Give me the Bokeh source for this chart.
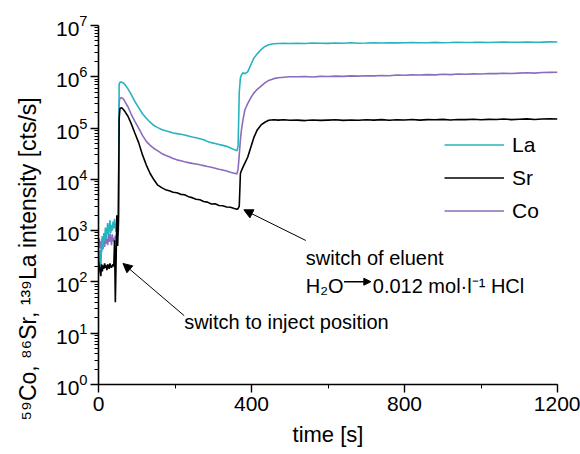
from bokeh.plotting import figure
from bokeh.models import (Range1d, SingleIntervalTicker, FixedTicker, Legend, LegendItem,
                          Label, Arrow, NormalHead, Title)
from bokeh.embed import file_html
from bokeh.resources import INLINE

# ---------------- data ----------------
time_s = [0, 2, 4, 6, 8, 10, 12, 14, 16, 18, 20, 22, 24, 26, 28, 30, 32, 34, 36, 38, 40, 42, 44, 46, 48, 50, 52,
          54, 56, 60, 65, 70, 77, 85, 95,
          105, 115, 125, 135, 145, 155, 165, 175, 185, 195, 205, 215, 225, 235, 245, 255, 265, 275, 285, 295,
          305, 315, 325, 335, 345, 355, 362,
          365, 368, 371, 374, 378, 383, 390, 398, 406, 415, 425, 435, 445, 458, 470, 485, 500,
          520, 540, 560, 580, 600, 620, 640, 660, 680, 700, 720, 740, 760, 780, 800, 820, 840, 860, 880, 900,
          920, 940, 960, 980, 1000, 1020, 1040, 1060, 1080, 1100, 1120, 1140, 1160, 1180, 1200]

la_cps = [300, 180, 420, 160, 520, 780, 430, 900, 620, 1150, 700, 980, 1400, 820, 1100, 1600, 900, 1300, 1000,
          1500, 1100, 1700, 1200, 950, 1500, 1050, 1800,
          7.2e5, 7.8e5, 7.9e5, 7.6e5, 6.9e5, 5.8e5, 4.6e5, 3.3e5,
          2.5e5, 1.9e5, 1.55e5, 1.3e5, 1.12e5, 1.02e5, 9.4e4, 8.9e4, 8.5e4, 8.0e4, 7.8e4, 7.6e4, 7.3e4, 7.0e4,
          6.7e4, 6.5e4, 6.2e4, 5.9e4, 5.5e4, 5.2e4, 5.0e4, 4.8e4, 4.6e4, 4.4e4, 4.1e4, 3.8e4, 3.6e4,
          4.5e4, 5.0e5, 9.5e5, 1.1e6, 1.2e6, 1.15e6, 1.25e6, 1.7e6, 2.3e6, 2.8e6, 3.4e6, 3.9e6, 4.2e6, 4.4e6,
          4.45e6, 4.5e6, 4.45e6,
          4.5e6, 4.45e6, 4.55e6, 4.5e6, 4.48e6, 4.55e6, 4.5e6, 4.6e6, 4.52e6, 4.55e6, 4.6e6, 4.55e6, 4.62e6,
          4.58e6, 4.6e6, 4.65e6, 4.6e6, 4.62e6, 4.68e6, 4.62e6, 4.65e6, 4.7e6, 4.65e6, 4.68e6, 4.72e6, 4.66e6,
          4.7e6, 4.74e6, 4.7e6, 4.72e6, 4.78e6, 4.72e6, 4.75e6, 4.8e6, 4.78e6]

sr_cps = [250, 200, 160, 130, 220, 160, 210, 180, 230, 190, 210, 170, 220, 200, 180, 230, 200, 190, 210, 220,
          200, 650, 40, 250, 2000, 500, 1500,
          1.5e5, 2.4e5, 2.5e5, 2.3e5, 2.05e5, 1.7e5, 1.25e5, 8.0e4,
          5.2e4, 3.0e4, 1.9e4, 1.3e4, 9.8e3, 7.7e3, 6.9e3, 6.3e3, 6.0e3, 5.6e3, 5.5e3, 5.1e3, 5.0e3, 4.6e3,
          4.4e3, 4.1e3, 4.0e3, 3.7e3, 3.6e3, 3.3e3, 3.35e3, 3.1e3, 3.05e3, 2.9e3, 2.85e3, 2.7e3, 2.6e3,
          2.7e3, 3.0e3, 1.3e4, 1.5e4, 1.75e4, 2.1e4, 2.7e4, 4.2e4, 6.5e4, 9.2e4, 1.15e5, 1.3e5, 1.42e5, 1.45e5,
          1.43e5, 1.45e5, 1.42e5,
          1.43e5, 1.4e5, 1.44e5, 1.41e5, 1.43e5, 1.45e5, 1.41e5, 1.44e5, 1.42e5, 1.45e5, 1.43e5, 1.46e5, 1.42e5,
          1.45e5, 1.44e5, 1.47e5, 1.43e5, 1.46e5, 1.45e5, 1.48e5, 1.44e5, 1.47e5, 1.46e5, 1.49e5, 1.45e5, 1.48e5,
          1.47e5, 1.5e5, 1.46e5, 1.49e5, 1.51e5, 1.47e5, 1.5e5, 1.52e5, 1.5e5]

co_cps = [500, 700, 450, 620, 380, 700, 520, 650, 480, 780, 560, 700, 520, 820, 600, 880, 700, 520, 850, 620,
          720, 560, 800, 700, 900, 800, 1000,
          3.2e5, 3.8e5, 3.9e5, 3.7e5, 3.2e5, 2.6e5, 1.9e5, 1.35e5,
          1.0e5, 7.2e4, 5.5e4, 4.6e4, 4.0e4, 3.6e4, 3.2e4, 2.95e4, 2.75e4, 2.55e4, 2.4e4, 2.3e4, 2.2e4, 2.12e4,
          2.05e4, 2.0e4, 1.92e4, 1.85e4, 1.78e4, 1.72e4, 1.65e4, 1.58e4, 1.52e4, 1.45e4, 1.38e4, 1.32e4, 1.28e4,
          1.6e4, 3.0e4, 6.0e4, 9.5e4, 1.5e5, 2.3e5, 3.0e5, 3.9e5, 4.8e5, 5.7e5, 6.6e5, 7.6e5, 8.5e5, 9.2e5,
          9.6e5, 9.8e5, 1.0e6,
          1.0e6, 1.01e6, 0.99e6, 1.02e6, 1.01e6, 1.03e6, 1.02e6, 1.04e6, 1.03e6, 1.05e6, 1.04e6, 1.06e6, 1.05e6,
          1.08e6, 1.07e6, 1.09e6, 1.08e6, 1.1e6, 1.09e6, 1.12e6, 1.1e6, 1.13e6, 1.12e6, 1.14e6, 1.13e6, 1.16e6,
          1.15e6, 1.17e6, 1.16e6, 1.18e6, 1.2e6, 1.18e6, 1.21e6, 1.22e6, 1.23e6]

series_names = ["La", "Sr", "Co"]
y_major_ticks = [1e0, 1e1, 1e2, 1e3, 1e4, 1e5, 1e6, 1e7]
x_label = "time [s]"
y_label = "\u2075\u2079Co, \u2078\u2076Sr, \u00b9\u00b3\u2079La intensity [cts/s]"

# ---------------- styling ----------------
FONT = "Liberation Sans"
LA_COLOR = "#27b4c0"
SR_COLOR = "#000000"
CO_COLOR = "#8a6dbd"

p = figure(width=580, height=454, output_backend="svg", toolbar_location=None,
           x_range=Range1d(0, 1200), y_range=Range1d(1, 1e7), y_axis_type="log",
           min_border_left=97, min_border_right=23, min_border_top=25, min_border_bottom=70)
p.outline_line_color = None
p.grid.visible = False
p.background_fill_color = "white"

r_co = p.line(time_s, co_cps, line_color=CO_COLOR, line_width=1.6)
r_la = p.line(time_s, la_cps, line_color=LA_COLOR, line_width=1.6)
r_sr = p.line(time_s, sr_cps, line_color=SR_COLOR, line_width=1.6)

# axes
p.xaxis.ticker = SingleIntervalTicker(interval=400, num_minor_ticks=2)
minor_y = [m * d for d in y_major_ticks[:-1] for m in range(2, 10)]
p.yaxis.ticker = FixedTicker(ticks=y_major_ticks, minor_ticks=minor_y)

for ax in (p.xaxis[0], p.yaxis[0]):
    ax.axis_line_width = 1.6
    ax.axis_line_color = "black"
    ax.major_tick_line_color = "black"
    ax.minor_tick_line_color = "black"
    ax.major_tick_line_width = 1.4
    ax.minor_tick_line_width = 1.0
    ax.major_tick_in = 0
    ax.major_tick_out = 8
    ax.minor_tick_in = 0
    ax.minor_tick_out = 4
    ax.major_label_text_font = FONT
    ax.major_label_text_font_size = "21px"
    ax.major_label_text_color = "black"
    ax.axis_label_text_font = FONT
    ax.axis_label_text_font_style = "normal"
    ax.axis_label_text_color = "black"
    ax.axis_label_text_font_size = "22px"

p.xaxis.axis_label = x_label
p.xaxis.major_label_standoff = 4
p.xaxis.axis_label_standoff = 8
p.yaxis.major_label_standoff = 3

# y-axis title as a side title (starts a little below the frame bottom, as in the original)
p.add_layout(Title(text=y_label, align="left", offset=-36, text_font=FONT,
                   text_font_size="23px", text_font_style="normal", text_color="black",
                   standoff=24), "left")

# legend
legend = Legend(items=[LegendItem(label=series_names[0], renderers=[r_la]),
                       LegendItem(label=series_names[1], renderers=[r_sr]),
                       LegendItem(label=series_names[2], renderers=[r_co])],
                location=(346, 161), background_fill_alpha=0, border_line_alpha=0,
                padding=0, margin=0, spacing=8, glyph_width=60, glyph_height=25,
                label_height=25, label_standoff=8, label_text_font=FONT,
                label_text_font_size="21px", label_text_color="black")
p.add_layout(legend)

# annotations
ANN = dict(text_font=FONT, text_font_size="20px", text_color="black",
           text_baseline="alphabetic", text_align="left")
p.add_layout(Label(x=224, y=16.9, text="switch to inject position", **ANN))
p.add_layout(Label(x=542, y=299, text="switch of eluent", **ANN))
p.add_layout(Label(x=542, y=81.5, text="H\u2082O", **ANN))
p.add_layout(Label(x=717, y=81.5, text="0.012 mol\u00b7l\u207b\u00b9 HCl", **ANN))

p.add_layout(Arrow(end=NormalHead(size=9, fill_color="black", line_color="black"),
                   x_start=224, y_start=22, x_end=64, y_end=229,
                   line_color="black", line_width=1))
p.add_layout(Arrow(end=NormalHead(size=9, fill_color="black", line_color="black"),
                   x_start=542, y_start=643, x_end=380, y_end=2547,
                   line_color="black", line_width=1))
p.add_layout(Arrow(end=NormalHead(size=7, fill_color="black", line_color="black"),
                   x_start=642, y_start=101, x_end=712, y_end=101,
                   line_color="black", line_width=1.4))

open("out.html", "w").write(file_html(p, INLINE))
